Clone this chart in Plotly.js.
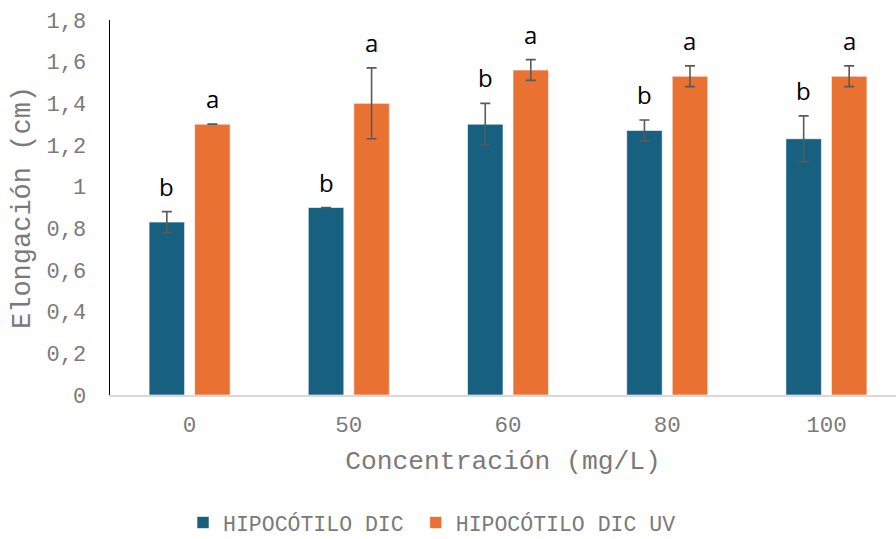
<!DOCTYPE html>
<html>
<head>
<meta charset="utf-8">
<script src="https://cdn.plot.ly/plotly-3.0.1.min.js"></script>
<style>html,body{margin:0;padding:0;background:#fff;}#chart{width:896px;height:539px;}</style>
</head>
<body>
<div id="chart"></div>
<script>
const categories = ["0", "50", "60", "80", "100"];
const seriesNames = ["HIPOCÓTILO DIC", "HIPOCÓTILO DIC UV"];
const dicValues = [0.83, 0.90, 1.30, 1.27, 1.23];
const dicErrors = [0.05, 0.00, 0.10, 0.05, 0.11];
const uvValues = [1.30, 1.40, 1.56, 1.53, 1.53];
const uvErrors = [0.00, 0.17, 0.05, 0.05, 0.05];
const dicLetters = ["b", "b", "b", "b", "b"];
const uvLetters = ["a", "a", "a", "a", "a"];
const yTicks = [0, 0.2, 0.4, 0.6, 0.8, 1, 1.2, 1.4, 1.6, 1.8];

const BLUE = "#17607f";
const ORANGE = "#e97132";
const mono = "'Liberation Mono', 'DejaVu Sans Mono', monospace";
const grey = "#7a7a7a";

const bargap = 0.428, bargroupgap = 0.22;
const slotOffset = (1 - bargap) / 4;

const traces = [
  {
    type: "bar", name: seriesNames[0], x: categories, y: dicValues, legend: "legend",
    marker: {color: BLUE, line: {color: "rgba(255,255,255,0.6)", width: 1}},
    error_y: {type: "data", array: dicErrors, visible: true, color: "#5a5a5a", thickness: 1.6, width: 5}
  },
  {
    type: "bar", name: seriesNames[1], x: categories, y: uvValues, legend: "legend2",
    marker: {color: ORANGE, line: {color: "rgba(255,255,255,0.6)", width: 1}},
    error_y: {type: "data", array: uvErrors, visible: true, color: "#5a5a5a", thickness: 1.6, width: 5}
  }
];

const annotations = [];
categories.forEach((c, i) => {
  annotations.push({
    x: i - slotOffset, y: dicValues[i] + dicErrors[i], xref: "x", yref: "y",
    text: dicLetters[i], showarrow: false, yanchor: "bottom", yshift: 8, borderpad: 0,
    font: {family: "'Open Sans', 'Noto Sans', sans-serif", size: 24, color: "#000"}
  });
  annotations.push({
    x: i + slotOffset, y: uvValues[i] + uvErrors[i], xref: "x", yref: "y",
    text: uvLetters[i], showarrow: false, yanchor: "bottom", yshift: 8, borderpad: 0,
    font: {family: "'Open Sans', 'Noto Sans', sans-serif", size: 24, color: "#000"}
  });
});

const legendBase = {
  orientation: "h", y: -0.34, yanchor: "middle", xanchor: "left",
  font: {family: mono, size: 21.5, color: grey}, itemwidth: 30, borderwidth: 0
};

const layout = {
  width: 896, height: 539,
  margin: {l: 110, r: 0, t: 20, b: 144, pad: 0, autoexpand: false},
  paper_bgcolor: "#fff", plot_bgcolor: "#fff",
  barmode: "group", bargap: bargap, bargroupgap: bargroupgap,
  separators: ",.",
  showlegend: true,
  legend: Object.assign({}, legendBase, {x: 0.0929}),
  legend2: Object.assign({}, legendBase, {x: 0.389}),
  xaxis: {
    type: "category", range: [-0.5, 4.437],
    showline: true, linecolor: "#d9d9d9", linewidth: 1.5,
    showgrid: false, zeroline: false, ticks: "",
    ticklabelstandoff: 8,
    tickfont: {family: mono, size: 22.5, color: grey},
    title: {text: "Concentración (mg/L)", font: {family: mono, size: 26.3, color: grey}, standoff: 13}
  },
  yaxis: {
    range: [0, 1.8], tickvals: yTicks, ticktext: yTicks.map(v => String(v).replace(".", ",")),
    showline: true, linecolor: "#000", linewidth: 1.5,
    showgrid: false, zeroline: false, ticks: "",
    ticklabelstandoff: 18,
    tickfont: {family: mono, size: 22, color: grey},
    title: {text: "Elongación (cm)", font: {family: mono, size: 27, color: grey}, standoff: 8}
  },
  annotations: annotations
};

Plotly.newPlot("chart", traces, layout, {displayModeBar: false, staticPlot: true});
</script>
</body>
</html>
